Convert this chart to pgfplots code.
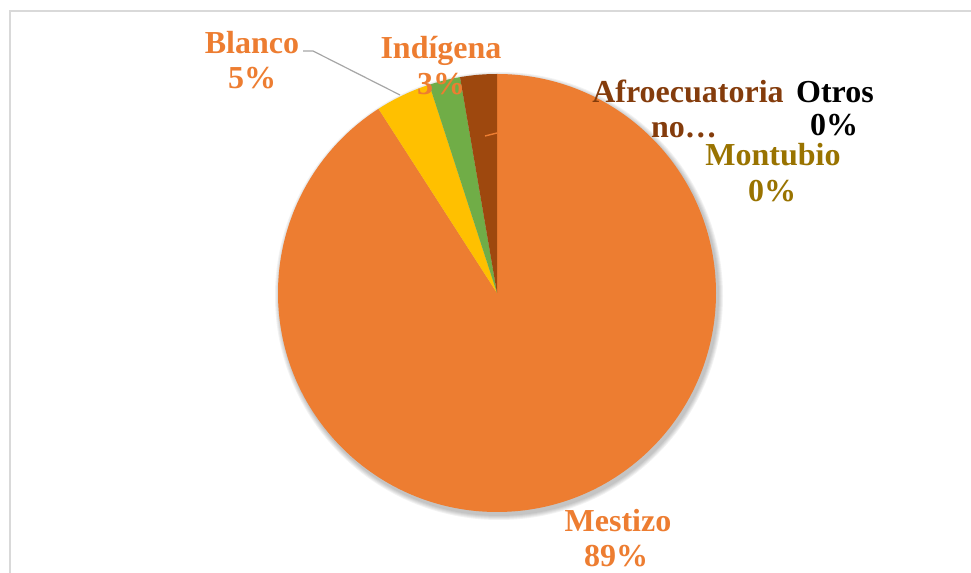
\documentclass[border=0pt]{standalone}
\usepackage{pgfplots}
\usepackage{pgfplotstable}
\pgfplotsset{compat=1.18}
\usepackage{fontspec}
\setmainfont{Liberation Serif}
\definecolor{cMest}{HTML}{ED7D31}
\definecolor{cBlan}{HTML}{FFC000}
\definecolor{cIndi}{HTML}{70AD47}
\definecolor{cAfro}{HTML}{9E480E}
\definecolor{cMont}{HTML}{997300}
\definecolor{tAfro}{HTML}{843C0C}
\definecolor{frame}{HTML}{D9D9D9}
\colorlet{slice0}{cMest}
\colorlet{slice1}{cBlan}
\colorlet{slice2}{cIndi}
\colorlet{slice3}{cAfro}

% share of each slice (percent of the circle)
\pgfplotstableread{
name share
Mestizo 90.9
Blanco 4.1
Indigena 2.3
Afro 2.7
Montubio 0
Otros 0
}\piedata

% start/end angles, clockwise from 12 o'clock
\def\cum{0}
\pgfplotsforeachungrouped \i in {0,...,5}{%
  \pgfplotstablegetelem{\i}{share}\of\piedata
  \pgfmathsetmacro\s{90-3.6*\cum}%
  \pgfmathsetmacro\cum{\cum+\pgfplotsretval}%
  \pgfmathsetmacro\e{90-3.6*\cum}%
  \expandafter\xdef\csname ps\i\endcsname{\s}%
  \expandafter\xdef\csname pe\i\endcsname{\e}%
}

\tikzset{lab/.style={font=\fontsize{16}{18}\selectfont\bfseries, anchor=base, inner sep=0pt}}

\begin{document}
\begin{tikzpicture}
\path[use as bounding box] (0,0) rectangle (485.5pt,286.5pt);
\begin{axis}[
  width=485.5pt, height=286.5pt, scale only axis,
  xmin=0, xmax=971, ymin=0, ymax=573,
  hide axis, clip=false
]
  % chart frame (only top and left edges are inside the picture)
  \draw[frame, line width=1.2pt] (axis cs:10,0) -- (axis cs:10,562) -- (axis cs:971,562);
  % soft shadow
  \pgfplotsinvokeforeach{110.0pt,110.5pt,111.0pt,111.5pt,112.0pt}{
    \fill[black, opacity=0.05] (axis cs:499,277) circle[radius=#1];
  }
  % slices
  \pgfplotsinvokeforeach{0,...,3}{
    \fill[slice#1] (axis cs:497,280) -- ++(\csname ps#1\endcsname:109.5pt)
      arc[start angle=\csname ps#1\endcsname, end angle=\csname pe#1\endcsname, radius=109.5pt] -- cycle;
  }
  % leader lines
  \draw[gray!70, line width=0.6pt] (axis cs:303,522) -- (axis cs:313,522) -- (axis cs:400,478);
  \draw[cMest, line width=0.7pt] (axis cs:485,437) -- (axis cs:497,440);
  % labels
  \node[lab, text=cMest] at (axis cs:252,519) {Blanco};
  \node[lab, text=cMest] at (axis cs:252,484) {5\%};
  \node[lab, text=cMest] at (axis cs:441,514) {Indígena};
  \node[lab, text=cMest] at (axis cs:441,478) {3\%};
  \node[lab, text=tAfro] at (axis cs:688,470) {Afroecuatoria};
  \node[lab, text=tAfro] at (axis cs:684,435) {no…};
  \node[lab, text=black] at (axis cs:835,470) {Otros};
  \node[lab, text=black] at (axis cs:834,437) {0\%};
  \node[lab, text=cMont] at (axis cs:773,407) {Montubio};
  \node[lab, text=cMont] at (axis cs:772,371) {0\%};
  \node[lab, text=cMest] at (axis cs:618,41) {Mestizo};
  \node[lab, text=cMest] at (axis cs:616,6) {89\%};
\end{axis}
\end{tikzpicture}
\end{document}
